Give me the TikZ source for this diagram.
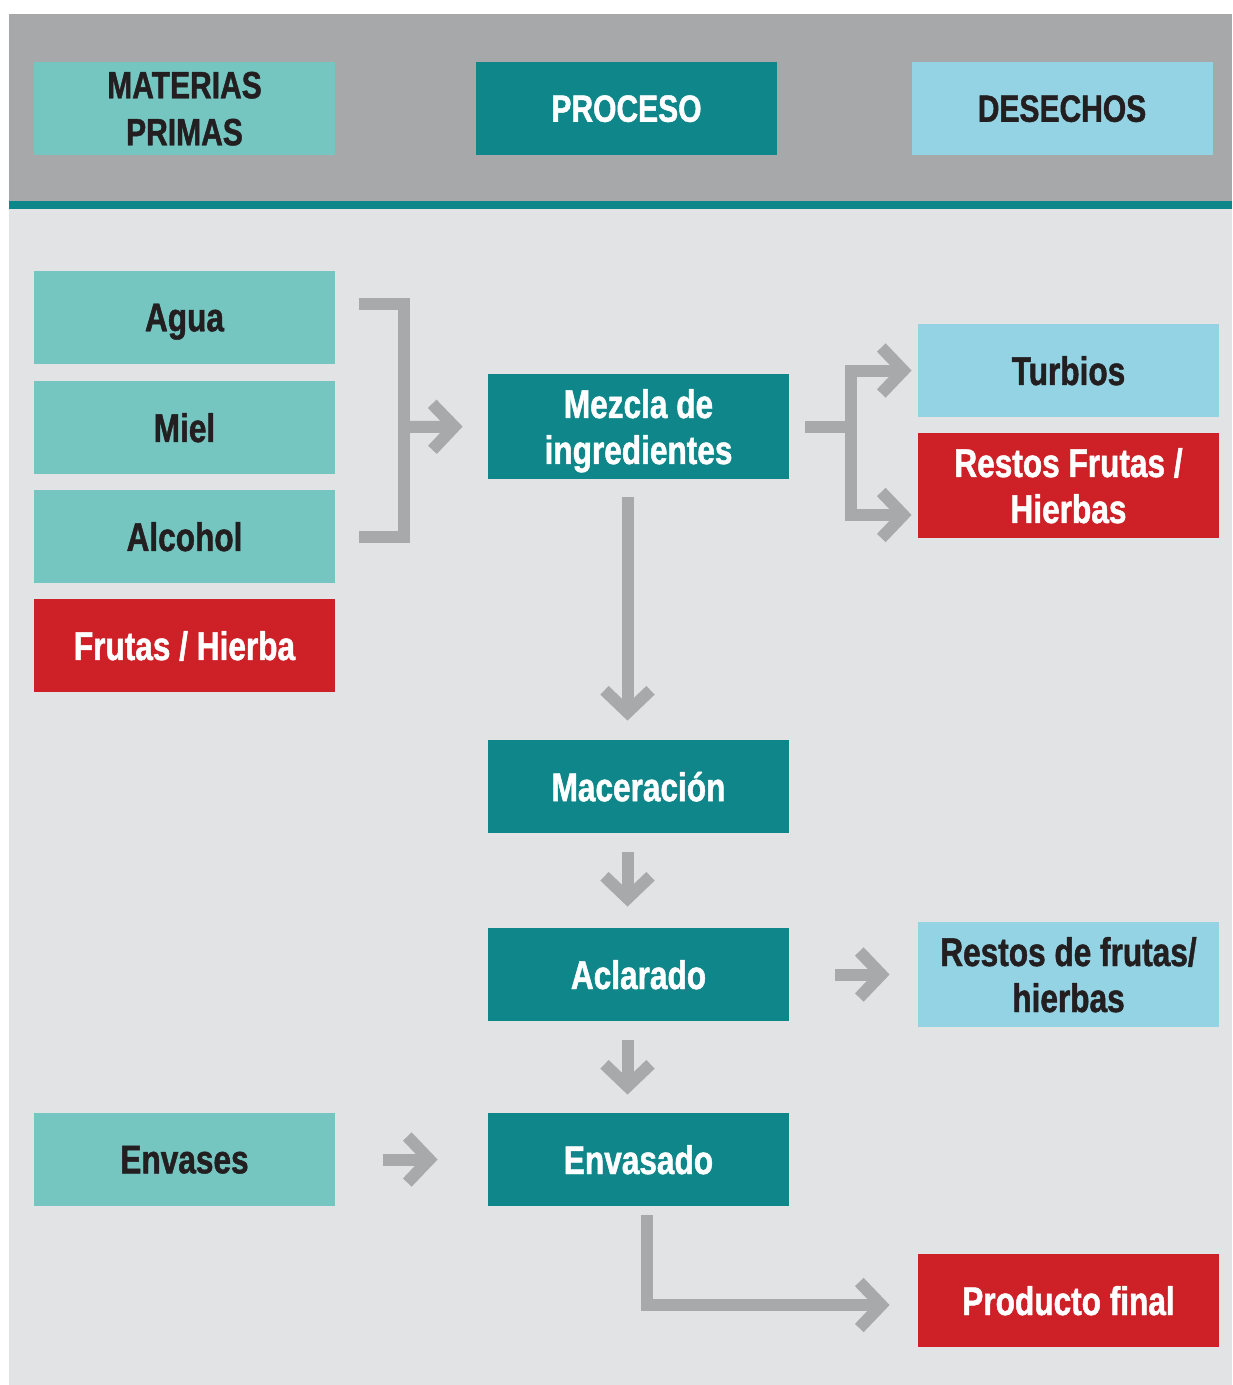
\documentclass[tikz,border=0pt]{standalone}
\usepackage{fontspec}
\setmainfont{Liberation Sans}[FakeStretch=0.79, BoldFeatures={FakeBold=1.2}]
\usetikzlibrary{arrows.meta}
\definecolor{mpcol}{HTML}{75C5C1}
\definecolor{procol}{HTML}{0F8689}
\definecolor{descol}{HTML}{93D3E3}
\definecolor{rojocol}{HTML}{CD2027}
\definecolor{cabcol}{HTML}{A7A8AA}
\definecolor{fondocol}{HTML}{E2E3E5}
\definecolor{flechacol}{HTML}{A8A9AB}
\definecolor{oscuro}{HTML}{231F20}
\begin{document}
\begin{tikzpicture}[x=0.5pt, y=-0.5pt, >={Straight Barb[length=11pt, width=23pt]},
	caja/.style={minimum width=150.5pt, minimum height=46.5pt, inner sep=0pt, text depth=0pt, align=center, font=\bfseries\fontsize{20}{23}\selectfont},
	alta/.style={minimum height=52.5pt},
	cab/.style={font=\bfseries\fontsize{19}{23.5}\selectfont},
	materia/.style={caja, fill=mpcol, text=oscuro},
	proceso/.style={caja, fill=procol, text=white},
	desecho/.style={caja, fill=descol, text=oscuro},
	rojo/.style={caja, fill=rojocol, text=white},
	linea/.style={draw=flechacol, line width=6pt},
	flecha/.style={linea, ->}]
				% 1. 背景层
				\useasboundingbox (0,0) rectangle (1232,1385);
				\fill[white] (0,0) rectangle (1232,1385);
				\fill[cabcol] (9,14) rectangle (1232,201);
				\fill[procol] (9,201) rectangle (1232,209);
				\fill[fondocol] (9,209) rectangle (1232,1385);
				
				% 2. 标题栏
				\node[materia, cab] (hmat) at (184.5,108.5) {MATERIAS\\PRIMAS};
				\node[proceso, cab] (hpro) at (626.5,108.5) {PROCESO};
				\node[desecho, cab] (hdes) at (1062,108.5) {DESECHOS};
				
				% 3. 原料（左列）
				\node[materia] (agua) at (184.5,317.5) {Agua};
				\node[materia] (miel) at (184.5,427.5) {Miel};
				\node[materia] (alcohol) at (184.5,536.5) {Alcohol};
				\node[rojo] (frutas) at (184.5,645.5) {Frutas / Hierba};
				\node[materia] (envases) at (184.5,1159.5) {Envases};
				
				% 4. 工序（中列）
				\node[proceso, alta] (mezcla) at (638.5,426.5) {Mezcla de\\ingredientes};
				\node[proceso] (macer) at (638.5,786.5) {Maceración};
				\node[proceso] (aclarado) at (638.5,974.5) {Aclarado};
				\node[proceso] (envasado) at (638.5,1159.5) {Envasado};
				
				% 5. 废料（右列）
				\node[desecho] (turbios) at (1068.5,370.5) {Turbios};
				\node[rojo, alta] (restos) at (1068.5,485.5) {Restos Frutas /\\Hierbas};
				\node[desecho, alta] (restosb) at (1068.5,974.5) {Restos de frutas/\\hierbas};
				\node[rojo] (producto) at (1068.5,1300.5) {Producto final};
				
				% 6. 箭头
				\coordinate (ba) at (359,304);
				\coordinate (bb) at (359,537);
				\coordinate (bm) at (404,427);
				\draw[linea] (ba) -| (bm) |- (bb);
				\draw[flecha, shorten >=12.5pt] (bm) -- (mezcla.west);
				
				\coordinate (dv) at ([xshift=31pt]mezcla.east);
				\draw[linea, shorten <=8pt, shorten >=-3pt] (mezcla.east) -- (dv);
				\draw[flecha, shorten >=3pt] (dv) |- (turbios.west);
				\draw[flecha, shorten >=3pt] (dv) |- ([yshift=-14.75pt]restos.west);
				
				\draw[flecha, shorten <=9pt, shorten >=9.5pt] ([xshift=-5.5pt]mezcla.south) -- ([xshift=-5.5pt]macer.north);
				\draw[flecha, shorten <=9.5pt, shorten >=10.5pt] ([xshift=-5.5pt]macer.south) -- ([xshift=-5.5pt]aclarado.north);
				\draw[flecha, shorten <=9.5pt, shorten >=9pt] ([xshift=-5.5pt]aclarado.south) -- ([xshift=-5.5pt]envasado.north);
				\draw[flecha, shorten <=23pt, shorten >=14pt] (aclarado.east) -- (restosb.west);
				\draw[flecha, shorten <=24pt, shorten >=25pt] (envases.east) -- (envasado.west);
				\draw[flecha, shorten <=4.5pt, shorten >=14pt] ([xshift=4.25pt]envasado.south) |- ([yshift=-2.25pt]producto.west);
			\end{tikzpicture}
\end{document}
